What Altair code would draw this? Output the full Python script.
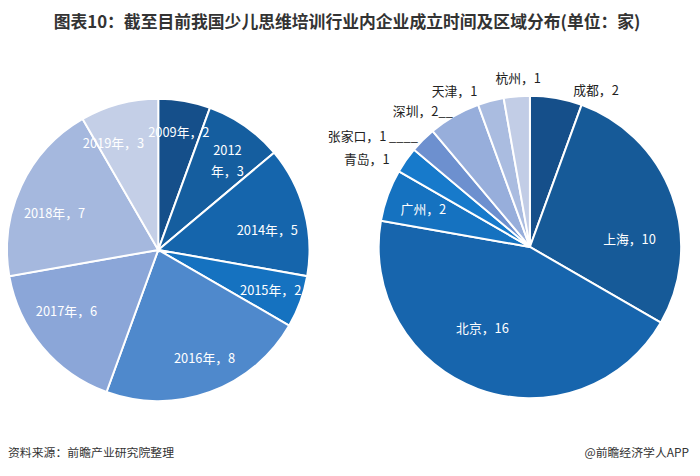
import altair as alt
import pandas as pd

# ---------------- text ----------------
title_text = "图表10：截至目前我国少儿思维培训行业内企业成立时间及区域分布(单位：家)"
source_text = "资料来源：前瞻产业研究院整理"
brand_text = "@前瞻经济学人APP"

# ---------------- data ----------------
years = ["2009", "2012", "2014", "2015", "2016", "2017", "2018", "2019"]
year_counts = [2, 3, 5, 2, 8, 6, 7, 3]

cities = ["成都", "上海", "北京", "广州", "青岛", "张家口", "深圳", "天津", "杭州"]
city_counts = [2, 10, 16, 2, 1, 1, 2, 1, 1]

# ---------------- style / layout ----------------
year_colors = ["#154F8A", "#155E9F", "#1565AC", "#1572C0", "#4F89CC",
               "#8BA6D8", "#A5B8DE", "#C4CFE7"]
city_colors = ["#154F8A", "#165A98", "#1765AD", "#1572C0", "#177ACB",
               "#6D90CF", "#97AEDB", "#AABCE0", "#C2CDE6"]

year_label_nudge = [0, 0, 5, 0, -3, 6, -6, -8]          # degrees
year_label_radius = [120, 122, 112, 121, 120, 112, 111, 116]
year_label_break = [False, True, False, False, False, False, False, False]

city_label_nudge = [13, 16, 10, -1, -7, -10, -8.5, -11, 1]
city_label_radius = [171, 101, 96, 114, 187, 194, 174, 174, 170]
city_leaders = ["", "", "", "", "", " ____", "__", "", ""]
city_label_inside = [False, True, True, True, False, False, False, False, False]

FONT = "Noto Sans CJK SC"
R = 153
LEFT_C = (152, 242)
RIGHT_C = (528, 239)
W, H = 692, 468


def build(cats, vals, nudge, radius):
    df = pd.DataFrame({"cat": cats, "v": vals})
    df["idx"] = range(len(df))
    total = float(df["v"].sum())
    cum = df["v"].cumsum()
    df["la"] = cum - df["v"] / 2 + pd.Series(nudge) * total / 360.0
    df["lr"] = radius
    return df, total


ydf, ytotal = build(years, year_counts, year_label_nudge, year_label_radius)
ydf["label"] = [
    f"{y}\n年，{v}" if br else f"{y}年，{v}"
    for y, v, br in zip(years, year_counts, year_label_break)
]

cdf, ctotal = build(cities, city_counts, city_label_nudge, city_label_radius)
cdf["label"] = [f"{c}，{v}{ld}" for c, v, ld in zip(cities, city_counts, city_leaders)]
cdf["inside"] = city_label_inside


def pie(df, total, cats, colors, center):
    return alt.Chart(df).mark_arc(outerRadius=R, stroke="white", strokeWidth=2).encode(
        theta=alt.Theta("v:Q", stack=True, scale=alt.Scale(domain=[0, total])),
        order=alt.Order("idx:Q"),
        color=alt.Color("cat:N", scale=alt.Scale(domain=cats, range=colors), legend=None),
        x=alt.value(center[0]),
        y=alt.value(center[1]),
    )


def labels(df, total, center, color):
    return alt.Chart(df).mark_text(
        font=FONT, fontSize=13, color=color, align="center", baseline="middle",
        lineBreak="\n", lineHeight=21,
    ).encode(
        theta=alt.Theta("la:Q", stack=None, scale=alt.Scale(domain=[0, total])),
        radius=alt.Radius("lr:Q", scale=None),
        text="label:N",
        x=alt.value(center[0]),
        y=alt.value(center[1]),
    )


left_pie = pie(ydf, ytotal, years, year_colors, LEFT_C)
left_lbl = labels(ydf, ytotal, LEFT_C, "white")

right_pie = pie(cdf, ctotal, cities, city_colors, RIGHT_C)
right_in = labels(cdf[cdf["inside"]].copy(), ctotal, RIGHT_C, "white")
right_out = labels(cdf[~cdf["inside"]].copy(), ctotal, RIGHT_C, "#222222")

text_df = pd.DataFrame({"t": [title_text]})
title = alt.Chart(text_df).mark_text(
    font=FONT, fontSize=17, fontWeight="bold", color="#333333", align="center", baseline="middle"
).encode(text="t:N", x=alt.value(343), y=alt.value(12))

src = alt.Chart(pd.DataFrame({"t": [source_text]})).mark_text(
    font=FONT, fontSize=12, color="#333333", align="left", baseline="middle"
).encode(text="t:N", x=alt.value(0), y=alt.value(448))

brand = alt.Chart(pd.DataFrame({"t": [brand_text]})).mark_text(
    font=FONT, fontSize=12, color="#333333", align="right", baseline="middle"
).encode(text="t:N", x=alt.value(689), y=alt.value(448))

chart = alt.layer(
    left_pie, right_pie, left_lbl, right_in, right_out, title, src, brand
).resolve_scale(
    color="independent", theta="independent"
).properties(
    width=W, height=H, autosize=alt.AutoSizeParams(type="none"), padding=0,
    background="white",
).configure_view(stroke=None)

chart.save("out.html", embed_options={"renderer": "svg", "actions": False})
